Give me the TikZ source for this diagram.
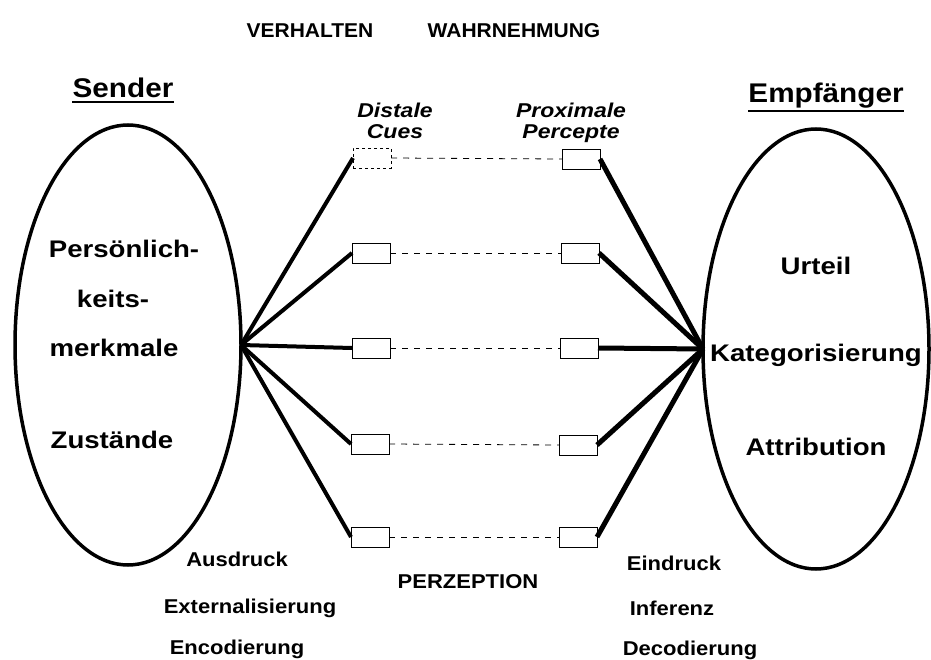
\documentclass[tikz,border=0pt]{standalone}
\usepackage{fontspec}
\newfontfamily\diafont{Liberation Sans}[FakeStretch=1.1]
\newfontfamily\bodyfont{Liberation Sans}[FakeStretch=1.15]
\newfontfamily\topfont{Liberation Sans}[FakeStretch=1.05]
\newfontfamily\cuefont{Liberation Sans}[FakeStretch=1.15]
\usetikzlibrary{calc}
\usetikzlibrary{shapes.geometric}
\tikzset{
    % Bold sans lettering, as in the figure
    body text/.style={font=\bodyfont\bfseries\fontsize{24}{28}\selectfont,
        inner sep=0, anchor=base},
    small text/.style={font=\diafont\bfseries\fontsize{20}{24}\selectfont,
        inner sep=0, anchor=base},
    top text/.style={font=\topfont\bfseries\fontsize{20}{24}\selectfont,
        inner sep=0, anchor=base},
    heading/.style={font=\diafont\bfseries\fontsize{27}{32}\selectfont,
        inner sep=0, anchor=base},
    cue text/.style={font=\cuefont\bfseries\itshape\fontsize{20}{24}\selectfont,
        inner sep=0, anchor=base},
%
    % One of the two persons, a tall ellipse
    person/.style={draw, ellipse, line width=3.5pt,
        minimum width=226pt, minimum height=440pt, outer sep=0},
%
    % A small box standing for one cue
    cue box/.style={draw, line width=0.8pt, minimum width=38pt,
        minimum height=20pt, inner sep=0, outer sep=0},
    % Heavy lines into and out of the cues
    link/.style={line width=4pt},
    % The thin dashed match between cue and percept
    match/.style={line width=0.8pt, dash pattern=on 6pt off 6pt}}

\begin{document}
\begin{tikzpicture}[x=1pt, y=-1pt]

\useasboundingbox (0,0) rectangle (931,660);

\node [top text] (verhalten) at (310,38) {VERHALTEN};
\node [top text] (wahrnehmung) at (514,38) {WAHRNEHMUNG};

\node [heading] (sender title) at (123,98) {Sender};
\node [heading] (receiver title) at (826,103) {Empfänger};
\draw [line width=2pt]
    ($(sender title.south west)+(0,4)$) -- ($(sender title.south east)+(0,4)$);
\draw [line width=2pt]
    ($(receiver title.south west)+(0,2)$) -- ($(receiver title.south east)+(0,2)$);

\node [cue text] (distale) at (395,118) {Distale};
\node [cue text] (cues) at (395,139) {Cues};
\node [cue text] (proximale) at (571,118) {Proximale};
\node [cue text] (percepte) at (571,139) {Percepte};

\node [person] (sender) at (128,345) {};
\node [person] (receiver) at (816,349) {};
\coordinate (send hub) at (sender.east);
\coordinate (receive hub) at (receiver.west);

\node [body text] (traits1) at (124,258) {Persönlich-};
\node [body text] (traits2) at (113,307) {keits-};
\node [body text] (traits3) at (114,356) {merkmale};
\node [body text] (states) at (112,448) {Zustände};

\node [body text] (judgement) at (816,274) {Urteil};
\node [body text] (category) at (816,361) {Kategorisierung};
\node [body text] (attribution) at (816,455) {Attribution};

% cues on the sender side, percepts on the receiver side
\node [cue box, dashed] (cue1) at (372,158) {};
\node [cue box] (cue2) at (371,253) {};
\node [cue box] (cue3) at (371,348) {};
\node [cue box] (cue4) at (370,444) {};
\node [cue box] (cue5) at (370,537) {};

\node [cue box] (percept1) at (581,159) {};
\node [cue box] (percept2) at (580,253) {};
\node [cue box] (percept3) at (579,348) {};
\node [cue box] (percept4) at (578,445) {};
\node [cue box] (percept5) at (578,537) {};

\draw [link] (send hub) -- (cue1.west);
\draw [link] (send hub) -- (cue2.west);
\draw [link] (send hub) -- (cue3.west);
\draw [link] (send hub) -- (cue4.west);
\draw [link] (send hub) -- (cue5.west);

\draw [link, line width=5pt] (percept1.east) -- (receive hub);
\draw [link, line width=5pt] (percept2.east) -- (receive hub);
\draw [link, line width=5pt] (percept3.east) -- (receive hub);
\draw [link, line width=5pt] (percept4.east) -- (receive hub);
\draw [link, line width=5pt] (percept5.east) -- (receive hub);

\draw [match] (cue1.east) -- (percept1.west);
\draw [match] (cue2.east) -- (percept2.west);
\draw [match] (cue3.east) -- (percept3.west);
\draw [match] (cue4.east) -- (percept4.west);
\draw [match] (cue5.east) -- (percept5.west);

\node [small text] (ausdruck) at (237,566) {Ausdruck};
\node [small text] (external) at (250,613) {Externalisierung};
\node [small text] (encode) at (237,654) {Encodierung};

\node [small text] (perzeption) at (468,588) {PERZEPTION};

\node [small text] (eindruck) at (674,570) {Eindruck};
\node [small text] (inferenz) at (672,615) {Inferenz};
\node [small text] (decode) at (690,655) {Decodierung};

\end{tikzpicture}
\end{document}
